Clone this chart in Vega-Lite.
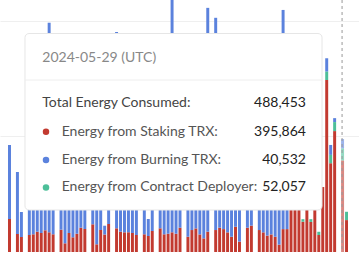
{
  "$schema": "https://vega.github.io/schema/vega-lite/v6.json",
  "width": 359,
  "height": 252,
  "padding": 0,
  "autosize": {"type": "none"},
  "background": "white",
  "config": {"view": {"stroke": null}, "font": "Lato"},
  "data": {
    "values": [
      {"date": "2024-03-06", "staking": 142700, "burning": 320100, "deployer": 0},
      {"date": "2024-03-07", "staking": 0, "burning": 0, "deployer": 0},
      {"date": "2024-03-08", "staking": 77900, "burning": 268100, "deployer": 0},
      {"date": "2024-03-09", "staking": 64900, "burning": 108100, "deployer": 0},
      {"date": "2024-03-10", "staking": 0, "burning": 0, "deployer": 0},
      {"date": "2024-03-11", "staking": 73500, "burning": 352000, "deployer": 0},
      {"date": "2024-03-12", "staking": 76600, "burning": 341000, "deployer": 0},
      {"date": "2024-03-13", "staking": 87800, "burning": 338000, "deployer": 0},
      {"date": "2024-03-14", "staking": 82200, "burning": 355000, "deployer": 0},
      {"date": "2024-03-15", "staking": 93900, "burning": 322000, "deployer": 0},
      {"date": "2024-03-16", "staking": 85200, "burning": 906500, "deployer": 0},
      {"date": "2024-03-17", "staking": 76600, "burning": 349000, "deployer": 0},
      {"date": "2024-03-18", "staking": 0, "burning": 0, "deployer": 0},
      {"date": "2024-03-19", "staking": 96400, "burning": 331000, "deployer": 0},
      {"date": "2024-03-20", "staking": 37600, "burning": 372000, "deployer": 0},
      {"date": "2024-03-21", "staking": 82200, "burning": 344000, "deployer": 0},
      {"date": "2024-03-22", "staking": 63600, "burning": 361000, "deployer": 0},
      {"date": "2024-03-23", "staking": 79100, "burning": 336000, "deployer": 0},
      {"date": "2024-03-24", "staking": 105000, "burning": 327000, "deployer": 0},
      {"date": "2024-03-25", "staking": 99500, "burning": 318000, "deployer": 0},
      {"date": "2024-03-26", "staking": 0, "burning": 0, "deployer": 0},
      {"date": "2024-03-27", "staking": 119800, "burning": 305000, "deployer": 0},
      {"date": "2024-03-28", "staking": 33300, "burning": 388000, "deployer": 0},
      {"date": "2024-03-29", "staking": 95200, "burning": 330000, "deployer": 0},
      {"date": "2024-03-30", "staking": 75700, "burning": 38000, "deployer": 0},
      {"date": "2024-03-31", "staking": 121000, "burning": 299000, "deployer": 0},
      {"date": "2024-04-01", "staking": 0, "burning": 0, "deployer": 0},
      {"date": "2024-04-02", "staking": 102500, "burning": 849000, "deployer": 0},
      {"date": "2024-04-03", "staking": 87800, "burning": 340000, "deployer": 0},
      {"date": "2024-04-04", "staking": 85200, "burning": 333000, "deployer": 0},
      {"date": "2024-04-05", "staking": 85200, "burning": 351000, "deployer": 0},
      {"date": "2024-04-06", "staking": 82200, "burning": 342000, "deployer": 0},
      {"date": "2024-04-07", "staking": 73500, "burning": 366000, "deployer": 0},
      {"date": "2024-04-08", "staking": 0, "burning": 0, "deployer": 0},
      {"date": "2024-04-09", "staking": 76600, "burning": 347000, "deployer": 0},
      {"date": "2024-04-10", "staking": 69200, "burning": 73500, "deployer": 0},
      {"date": "2024-04-11", "staking": 90800, "burning": 329000, "deployer": 0},
      {"date": "2024-04-12", "staking": 0, "burning": 0, "deployer": 0},
      {"date": "2024-04-13", "staking": 102500, "burning": 318000, "deployer": 0},
      {"date": "2024-04-14", "staking": 76600, "burning": 352000, "deployer": 0},
      {"date": "2024-04-15", "staking": 79100, "burning": 340000, "deployer": 0},
      {"date": "2024-04-16", "staking": 85200, "burning": 1080000, "deployer": 0},
      {"date": "2024-04-17", "staking": 79100, "burning": 345000, "deployer": 0},
      {"date": "2024-04-18", "staking": 105000, "burning": 317000, "deployer": 0},
      {"date": "2024-04-19", "staking": 0, "burning": 0, "deployer": 0},
      {"date": "2024-04-20", "staking": 66000, "burning": 360000, "deployer": 0},
      {"date": "2024-04-21", "staking": 95000, "burning": 331000, "deployer": 0},
      {"date": "2024-04-22", "staking": 102000, "burning": 320000, "deployer": 0},
      {"date": "2024-04-23", "staking": 76000, "burning": 352000, "deployer": 0},
      {"date": "2024-04-24", "staking": 59000, "burning": 371000, "deployer": 0},
      {"date": "2024-04-25", "staking": 88000, "burning": 968000, "deployer": 0},
      {"date": "2024-04-26", "staking": 0, "burning": 0, "deployer": 0},
      {"date": "2024-04-27", "staking": 95000, "burning": 918000, "deployer": 0},
      {"date": "2024-04-28", "staking": 105000, "burning": 324000, "deployer": 0},
      {"date": "2024-04-29", "staking": 99000, "burning": 330000, "deployer": 0},
      {"date": "2024-04-30", "staking": 85000, "burning": 343000, "deployer": 0},
      {"date": "2024-05-01", "staking": 66000, "burning": 361000, "deployer": 0},
      {"date": "2024-05-02", "staking": 109000, "burning": 316000, "deployer": 0},
      {"date": "2024-05-03", "staking": 45000, "burning": 383000, "deployer": 0},
      {"date": "2024-05-04", "staking": 0, "burning": 0, "deployer": 0},
      {"date": "2024-05-05", "staking": 105000, "burning": 322000, "deployer": 0},
      {"date": "2024-05-06", "staking": 114000, "burning": 309000, "deployer": 0},
      {"date": "2024-05-07", "staking": 0, "burning": 0, "deployer": 0},
      {"date": "2024-05-08", "staking": 95000, "burning": 334000, "deployer": 0},
      {"date": "2024-05-09", "staking": 85000, "burning": 346000, "deployer": 0},
      {"date": "2024-05-10", "staking": 71000, "burning": 358000, "deployer": 0},
      {"date": "2024-05-11", "staking": 76000, "burning": 350000, "deployer": 0},
      {"date": "2024-05-12", "staking": 66000, "burning": 362000, "deployer": 0},
      {"date": "2024-05-13", "staking": 32000, "burning": 395000, "deployer": 0},
      {"date": "2024-05-14", "staking": 99000, "burning": 948000, "deployer": 0},
      {"date": "2024-05-15", "staking": 99000, "burning": 331000, "deployer": 0},
      {"date": "2024-05-16", "staking": 440000, "burning": 0, "deployer": 6000},
      {"date": "2024-05-17", "staking": 460000, "burning": 0, "deployer": 5000},
      {"date": "2024-05-18", "staking": 430000, "burning": 0, "deployer": 7000},
      {"date": "2024-05-19", "staking": 131000, "burning": 0, "deployer": 11000},
      {"date": "2024-05-20", "staking": 450000, "burning": 0, "deployer": 8000},
      {"date": "2024-05-21", "staking": 130000, "burning": 0, "deployer": 12000},
      {"date": "2024-05-22", "staking": 500000, "burning": 0, "deployer": 9000},
      {"date": "2024-05-23", "staking": 73500, "burning": 0, "deployer": 14000},
      {"date": "2024-05-24", "staking": 281000, "burning": 0, "deployer": 0},
      {"date": "2024-05-25", "staking": 744000, "burning": 58000, "deployer": 36000},
      {"date": "2024-05-26", "staking": 384000, "burning": 43000, "deployer": 36000},
      {"date": "2024-05-27", "staking": 523000, "burning": 17000, "deployer": 39000},
      {"date": "2024-05-28", "staking": 0, "burning": 0, "deployer": 0},
      {"date": "2024-05-29", "staking": 395864, "burning": 40532, "deployer": 52057},
      {"date": "2024-05-30", "staking": 138000, "burning": 0, "deployer": 36000}
    ]
  },
  "layer": [
    {
      "transform": [{"fold": ["staking", "burning", "deployer"], "as": ["source", "energy"]}],
      "mark": {"type": "bar", "timeUnitBandSize": 0.7, "clip": true},
      "encoding": {
        "x": {
          "field": "date", "timeUnit": "utcyearmonthdate", "type": "temporal", "axis": null,
          "scale": {
            "type": "utc",
            "domain": [
              {"year": 2024, "month": 3, "date": 4, "hours": 5, "minutes": 31, "utc": true},
              {"year": 2024, "month": 6, "date": 2, "hours": 18, "minutes": 29, "utc": true}
            ]
          }
        },
        "y": {
          "field": "energy", "type": "quantitative", "stack": "zero",
          "scale": {"domain": [0, 1090000], "nice": false, "zero": true},
          "axis": {"values": [500000, 1000000], "grid": true, "gridColor": "#efefef", "labels": false, "ticks": false, "domain": false, "title": null}
        },
        "color": {
          "field": "source", "type": "nominal", "sort": ["staking", "burning", "deployer"],
          "scale": {"domain": ["staking", "burning", "deployer"], "range": ["#c23a30", "#5b82dd", "#4dbf99"]},
          "legend": null
        },
        "opacity": {
          "condition": {"test": {"field": "date", "equal": {"year": 2024, "month": 5, "date": 29, "utc": true}}, "value": 0.6},
          "value": 1
        }
      }
    },
    {
      "transform": [{"filter": {"field": "date", "equal": {"year": 2024, "month": 5, "date": 29, "utc": true}}}],
      "mark": {"type": "rule", "color": "#999999", "strokeDash": [3, 3], "strokeWidth": 1},
      "encoding": {
        "x": {"field": "date", "timeUnit": "utcyearmonthdate", "type": "temporal", "bandPosition": 0.5}
      }
    },
    {
      "data": {"values": [{}]},
      "mark": {"type": "rect", "fill": "white", "stroke": "#e6e6e6", "strokeWidth": 1, "cornerRadius": 4},
      "encoding": {
        "x": {"datum": {"year": 2024, "month": 3, "date": 10, "hours": 12, "minutes": 50, "utc": true}, "type": "temporal"},
        "x2": {"datum": {"year": 2024, "month": 5, "date": 24, "hours": 10, "minutes": 34, "utc": true}},
        "y": {"datum": 945000, "type": "quantitative"},
        "y2": {"datum": 181650}
      }
    },
    {
      "data": {"values": [{}]},
      "mark": {"type": "rule", "color": "#eeeeee", "strokeWidth": 1},
      "encoding": {
        "x": {"datum": {"year": 2024, "month": 3, "date": 10, "hours": 12, "minutes": 50, "utc": true}, "type": "temporal"},
        "x2": {"datum": {"year": 2024, "month": 5, "date": 24, "hours": 10, "minutes": 34, "utc": true}},
        "y": {"datum": 743900, "type": "quantitative"}
      }
    },
    {
      "transform": [{"filter": {"field": "date", "equal": {"year": 2024, "month": 5, "date": 29, "utc": true}}}],
      "mark": {"type": "text", "align": "left", "baseline": "middle", "font": "Lato", "fontSize": 14, "color": "#888888"},
      "encoding": {
        "x": {"datum": {"year": 2024, "month": 3, "date": 14, "hours": 21, "minutes": 33, "utc": true}, "type": "temporal"},
        "y": {"datum": 839050, "type": "quantitative"},
        "text": {"field": "date", "timeUnit": "utcyearmonthdate", "type": "temporal", "format": "%Y-%m-%d (UTC)"}
      }
    },
    {
      "transform": [
        {"filter": {"field": "date", "equal": {"year": 2024, "month": 5, "date": 29, "utc": true}}},
        {"fold": ["staking", "burning", "deployer"], "as": ["source", "energy"]},
        {"aggregate": [{"op": "sum", "field": "energy", "as": "total"}]}
      ],
      "encoding": {"y": {"datum": 643100, "type": "quantitative"}},
      "layer": [
        {
          "mark": {"type": "text", "align": "left", "baseline": "middle", "font": "Lato", "fontSize": 14, "color": "#444444"},
          "encoding": {
            "x": {"datum": {"year": 2024, "month": 3, "date": 14, "hours": 21, "minutes": 33, "utc": true}, "type": "temporal"},
            "text": {"datum": "Total Energy Consumed:"}
          }
        },
        {
          "mark": {"type": "text", "align": "right", "baseline": "middle", "font": "Lato", "fontSize": 14, "color": "#222222"},
          "encoding": {
            "x": {"datum": {"year": 2024, "month": 5, "date": 20, "hours": 9, "minutes": 36, "utc": true}, "type": "temporal"},
            "text": {"field": "total", "type": "quantitative", "format": ","}
          }
        }
      ]
    },
    {
      "transform": [
        {"filter": {"field": "date", "equal": {"year": 2024, "month": 5, "date": 29, "utc": true}}},
        {"fold": ["staking", "burning", "deployer"], "as": ["source", "energy"]},
        {"filter": {"field": "source", "equal": "staking"}}
      ],
      "encoding": {"y": {"datum": 520300, "type": "quantitative"}},
      "layer": [
        {
          "mark": {"type": "circle", "size": 42, "opacity": 1},
          "encoding": {
            "x": {"datum": {"year": 2024, "month": 3, "date": 15, "hours": 19, "minutes": 57, "utc": true}, "type": "temporal"},
            "color": {"field": "source", "type": "nominal", "legend": null}
          }
        },
        {
          "mark": {"type": "text", "align": "left", "baseline": "middle", "font": "Lato", "fontSize": 14, "color": "#555555"},
          "encoding": {
            "x": {"datum": {"year": 2024, "month": 3, "date": 19, "hours": 18, "minutes": 58, "utc": true}, "type": "temporal"},
            "text": {"datum": "Energy from Staking TRX:"}
          }
        },
        {
          "mark": {"type": "text", "align": "right", "baseline": "middle", "font": "Lato", "fontSize": 14, "color": "#222222"},
          "encoding": {
            "x": {"datum": {"year": 2024, "month": 5, "date": 20, "hours": 9, "minutes": 36, "utc": true}, "type": "temporal"},
            "text": {"field": "energy", "type": "quantitative", "format": ","}
          }
        }
      ]
    },
    {
      "transform": [
        {"filter": {"field": "date", "equal": {"year": 2024, "month": 5, "date": 29, "utc": true}}},
        {"fold": ["staking", "burning", "deployer"], "as": ["source", "energy"]},
        {"filter": {"field": "source", "equal": "burning"}}
      ],
      "encoding": {"y": {"datum": 397900, "type": "quantitative"}},
      "layer": [
        {
          "mark": {"type": "circle", "size": 42, "opacity": 1},
          "encoding": {
            "x": {"datum": {"year": 2024, "month": 3, "date": 15, "hours": 19, "minutes": 57, "utc": true}, "type": "temporal"},
            "color": {"field": "source", "type": "nominal", "legend": null}
          }
        },
        {
          "mark": {"type": "text", "align": "left", "baseline": "middle", "font": "Lato", "fontSize": 14, "color": "#555555"},
          "encoding": {
            "x": {"datum": {"year": 2024, "month": 3, "date": 19, "hours": 18, "minutes": 58, "utc": true}, "type": "temporal"},
            "text": {"datum": "Energy from Burning TRX:"}
          }
        },
        {
          "mark": {"type": "text", "align": "right", "baseline": "middle", "font": "Lato", "fontSize": 14, "color": "#222222"},
          "encoding": {
            "x": {"datum": {"year": 2024, "month": 5, "date": 20, "hours": 9, "minutes": 36, "utc": true}, "type": "temporal"},
            "text": {"field": "energy", "type": "quantitative", "format": ","}
          }
        }
      ]
    },
    {
      "transform": [
        {"filter": {"field": "date", "equal": {"year": 2024, "month": 5, "date": 29, "utc": true}}},
        {"fold": ["staking", "burning", "deployer"], "as": ["source", "energy"]},
        {"filter": {"field": "source", "equal": "deployer"}}
      ],
      "encoding": {"y": {"datum": 279000, "type": "quantitative"}},
      "layer": [
        {
          "mark": {"type": "circle", "size": 42, "opacity": 1},
          "encoding": {
            "x": {"datum": {"year": 2024, "month": 3, "date": 15, "hours": 19, "minutes": 57, "utc": true}, "type": "temporal"},
            "color": {"field": "source", "type": "nominal", "legend": null}
          }
        },
        {
          "mark": {"type": "text", "align": "left", "baseline": "middle", "font": "Lato", "fontSize": 14, "color": "#555555"},
          "encoding": {
            "x": {"datum": {"year": 2024, "month": 3, "date": 19, "hours": 18, "minutes": 58, "utc": true}, "type": "temporal"},
            "text": {"datum": "Energy from Contract Deployer:"}
          }
        },
        {
          "mark": {"type": "text", "align": "right", "baseline": "middle", "font": "Lato", "fontSize": 14, "color": "#222222"},
          "encoding": {
            "x": {"datum": {"year": 2024, "month": 5, "date": 20, "hours": 9, "minutes": 36, "utc": true}, "type": "temporal"},
            "text": {"field": "energy", "type": "quantitative", "format": ","}
          }
        }
      ]
    }
  ]
}
